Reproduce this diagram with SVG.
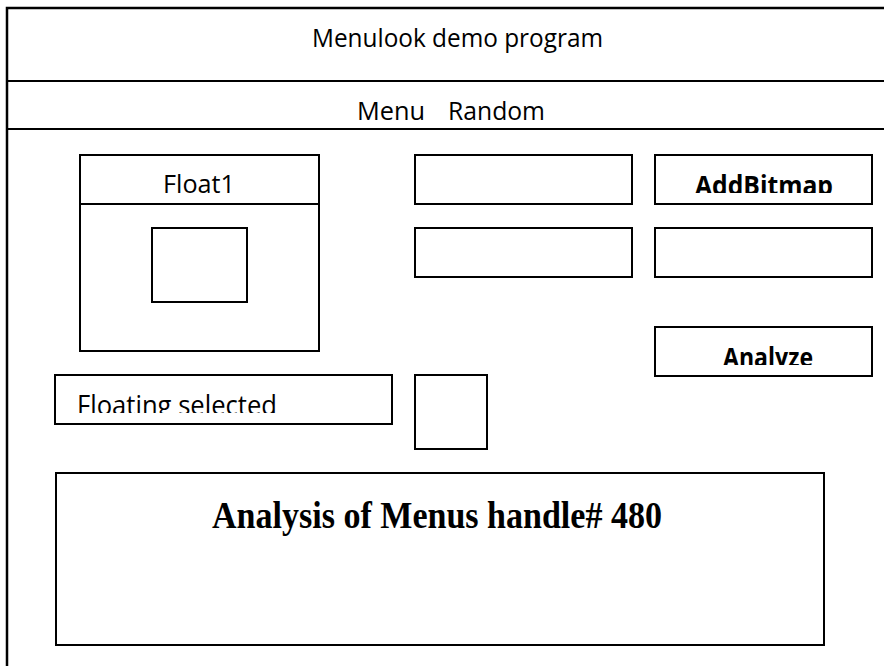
<svg xmlns="http://www.w3.org/2000/svg" width="884" height="666" viewBox="0 0 884 666">
<style>
.box{fill:#fff;stroke:#000;stroke-width:2}
.ln{stroke:#000;stroke-width:2;fill:none}
.t{font-family:"Open Sans","Liberation Sans",sans-serif;font-size:26px;fill:#000}
.b{font-weight:bold}
.tt{font-family:"Liberation Serif","Times New Roman",serif;font-size:38px;font-weight:bold;fill:#000}
</style>
<defs>
<clipPath id="cAdd"><rect x="656" y="156" width="215" height="37"/></clipPath>
<clipPath id="cAna"><rect x="656" y="328" width="215" height="37"/></clipPath>
<clipPath id="cFlo"><rect x="56" y="376" width="335" height="37"/></clipPath>
</defs>
<rect width="884" height="666" fill="#fff"/>
<g id="frame">
<path class="ln" d="M7,666 V8 H884" style="stroke-width:2.5"/>
<path class="ln" d="M7,81 H884 M7,129 H884"/>
<text class="t" x="312" y="47" textLength="291" lengthAdjust="spacingAndGlyphs">Menulook demo program</text>
<text class="t" y="120"><tspan x="357" textLength="68" lengthAdjust="spacingAndGlyphs">Menu</tspan><tspan x="448" textLength="97" lengthAdjust="spacingAndGlyphs">Random</tspan></text>
</g>
<g id="float1">
<rect class="box" x="80" y="155" width="239" height="196"/>
<path class="ln" d="M80,204 H319"/>
<text class="t" x="163" y="193" textLength="72" lengthAdjust="spacingAndGlyphs">Float1</text>
<rect class="box" x="152" y="228" width="95" height="74"/>
</g>
<g id="box1"><rect class="box" x="415" y="155" width="217" height="49"/></g>
<g id="addbitmap">
<rect class="box" x="655" y="155" width="217" height="49"/>
<text class="t b" x="695" y="195" textLength="138" lengthAdjust="spacingAndGlyphs" clip-path="url(#cAdd)">AddBitmap</text>
</g>
<g id="box2"><rect class="box" x="415" y="228" width="217" height="49"/></g>
<g id="box3"><rect class="box" x="655" y="228" width="217" height="49"/></g>
<g id="analyze">
<rect class="box" x="655" y="327" width="217" height="49"/>
<text class="t b" x="723" y="367" textLength="90" lengthAdjust="spacingAndGlyphs" clip-path="url(#cAna)">Analyze</text>
</g>
<g id="floating">
<rect class="box" x="55" y="375" width="337" height="49"/>
<text class="t" x="77" y="415" textLength="200" lengthAdjust="spacingAndGlyphs" clip-path="url(#cFlo)" style="font-size:28px">Floating selected</text>
</g>
<g id="smallbox"><rect class="box" x="415" y="375" width="72" height="74"/></g>
<g id="analysis">
<rect class="box" x="56" y="473" width="768" height="172"/>
<text class="tt" x="212" y="528" textLength="450" lengthAdjust="spacingAndGlyphs">Analysis of Menus handle# 480</text>
</g>
<g id="connectors"/>
</svg>
